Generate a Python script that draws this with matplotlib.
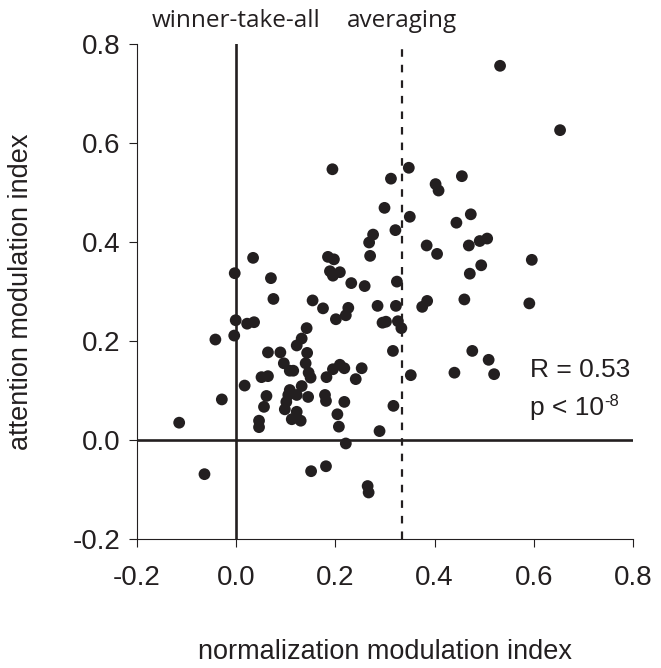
import matplotlib
matplotlib.use("Agg")
import matplotlib.pyplot as plt

# normalization modulation index (x) vs attention modulation index (y)
norm_idx = [0.532, 0.653, 0.194, 0.348, 0.312, 0.455, 0.402, 0.408, 0.299, 0.350,
            0.473, 0.444, 0.321, 0.276, 0.268, 0.384, 0.405, 0.469, 0.491, 0.506,
            0.596, 0.494, 0.471, 0.324, 0.270, 0.034, -0.003, 0.070, 0.185, 0.197,
            0.189, 0.195, 0.209, 0.232, 0.259, 0.075, 0.154, 0.175, 0.226, 0.221,
            0.201, 0.285, 0.322, 0.375, 0.385, 0.460, 0.591, 0.295, 0.302, 0.326,
            0.333, -0.001, 0.022, 0.036, -0.004, -0.042, 0.142, 0.132, 0.122, 0.064,
            0.089, 0.143, 0.096, 0.108, 0.115, 0.140, 0.146, 0.150, 0.051, 0.064,
            0.182, 0.195, 0.209, 0.218, 0.241, 0.253, 0.316, 0.476, 0.509, 0.520,
            0.440, 0.352, 0.017, 0.108, 0.132, 0.122, 0.105, 0.145, 0.061, 0.179,
            0.181, 0.218, 0.101, 0.098, 0.056, 0.122, 0.112, 0.130, 0.046, 0.046,
            0.204, 0.207, -0.029, -0.115, 0.317, 0.289, 0.221, 0.151, 0.181, -0.064,
            0.265, 0.267]
attn_idx = [0.756, 0.626, 0.547, 0.550, 0.528, 0.533, 0.517, 0.504, 0.469, 0.451,
            0.456, 0.439, 0.424, 0.415, 0.399, 0.393, 0.376, 0.393, 0.402, 0.407,
            0.364, 0.353, 0.336, 0.320, 0.372, 0.368, 0.337, 0.327, 0.370, 0.365,
            0.341, 0.332, 0.339, 0.317, 0.311, 0.285, 0.282, 0.266, 0.267, 0.252,
            0.244, 0.271, 0.271, 0.269, 0.281, 0.284, 0.276, 0.237, 0.239, 0.240,
            0.226, 0.242, 0.235, 0.238, 0.211, 0.203, 0.226, 0.205, 0.191, 0.177,
            0.177, 0.176, 0.155, 0.140, 0.140, 0.155, 0.136, 0.126, 0.127, 0.129,
            0.127, 0.143, 0.152, 0.145, 0.123, 0.145, 0.180, 0.180, 0.162, 0.133,
            0.136, 0.131, 0.110, 0.101, 0.109, 0.091, 0.091, 0.087, 0.089, 0.091,
            0.079, 0.077, 0.077, 0.062, 0.067, 0.057, 0.042, 0.039, 0.039, 0.026,
            0.052, 0.027, 0.082, 0.035, 0.069, 0.018, -0.007, -0.063, -0.053, -0.069,
            -0.093, -0.106]

ticks = [-0.2, 0.0, 0.2, 0.4, 0.6, 0.8]
tick_labels = ["-0.2", "0.0", "0.2", "0.4", "0.6", "0.8"]
averaging_x = 1 / 3

ink = "#231f20"
plt.rcParams["font.family"] = ["Liberation Sans", "DejaVu Sans"]

fig = plt.figure(figsize=(6.61, 6.68), dpi=100)
ax = fig.add_axes([0.2073, 0.1931, 0.7503, 0.7410])

ax.axhline(0, color=ink, lw=1.9, zorder=1)
ax.axvline(0, color=ink, lw=1.9, zorder=1)
ax.axvline(averaging_x, color=ink, lw=1.6, dashes=(3.4, 3.6), zorder=1)

ax.scatter(norm_idx, attn_idx, s=72, color=ink, edgecolors="none", zorder=3)

ax.set_xlim(-0.2, 0.8)
ax.set_ylim(-0.2, 0.8)
ax.set_xticks(ticks)
ax.set_xticklabels(tick_labels)
ax.set_yticks(ticks)
ax.set_yticklabels(tick_labels)
ax.tick_params(direction="out", length=6, width=0.8, colors=ink, labelsize=20)
ax.tick_params(axis="x", pad=13)
ax.tick_params(axis="y", pad=6)
for side in ["top", "right"]:
    ax.spines[side].set_visible(False)
for side in ["left", "bottom"]:
    ax.spines[side].set_linewidth(0.8)
    ax.spines[side].set_color(ink)

ax.set_xlabel("normalization modulation index", fontsize=19.5, color=ink, labelpad=34)
ax.set_ylabel("attention modulation index", fontsize=19.5, color=ink, labelpad=28)

ax.text(0.0, 0.834, "winner-take-all", ha="center", va="baseline", fontsize=17.5,
        color=ink, family=["Open Sans", "DejaVu Sans"], clip_on=False)
ax.text(averaging_x, 0.834, "averaging", ha="center", va="baseline", fontsize=17.5,
        color=ink, family=["Open Sans", "DejaVu Sans"], clip_on=False)

ax.text(0.592, 0.127, "R = 0.53", fontsize=19, color=ink, va="baseline")
p_txt = ax.text(0.592, 0.0505, "p < 10", fontsize=19, color=ink, va="baseline")
ax.annotate("-8", xy=(1, 1), xycoords=p_txt, xytext=(0.5, 1.5),
            textcoords="offset points", fontsize=12, color=ink, va="top", ha="left")

fig.savefig("out.png", dpi=100)
